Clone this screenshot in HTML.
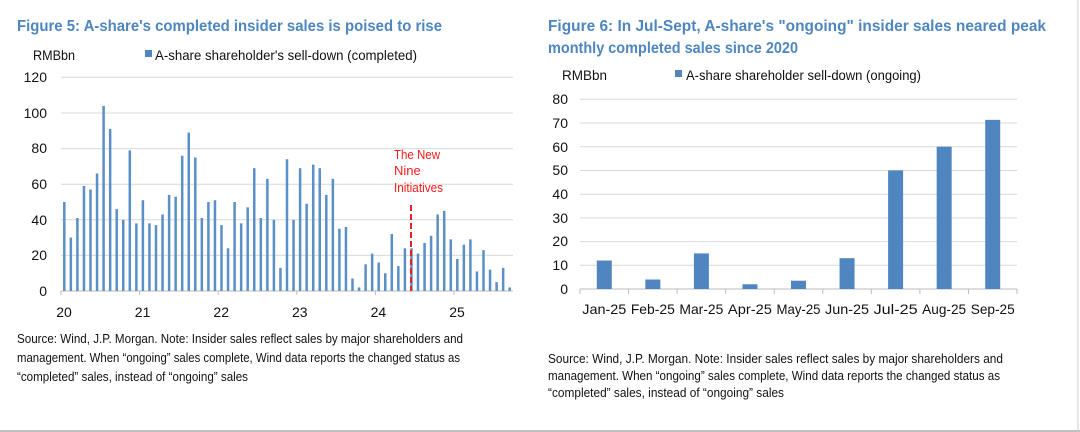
<!DOCTYPE html>
<html><head><meta charset="utf-8"><style>
body{margin:0;background:#fff;}
svg{display:block;font-family:"Liberation Sans",Arial,sans-serif;}
</style></head><body>
<svg width="1080" height="432" viewBox="0 0 1080 432" xmlns="http://www.w3.org/2000/svg">
<rect width="1080" height="432" fill="#fff"/>
<line x1="0" y1="431" x2="1080" y2="431" stroke="#aaa" stroke-width="1.5"/>
<line x1="1078" y1="0" x2="1078" y2="432" stroke="#ccc" stroke-width="1"/>
<!-- Left chart -->
<text x="17" y="31" font-size="16" font-weight="bold" fill="#4f86c0" textLength="425" lengthAdjust="spacingAndGlyphs">Figure 5: A-share's completed insider sales is poised to rise</text>
<text x="33" y="60" font-size="14" fill="#111" textLength="42" lengthAdjust="spacingAndGlyphs">RMBbn</text>
<rect x="145" y="50" width="7" height="7" fill="#4f86c0"/>
<text x="155" y="60" font-size="14" fill="#111" textLength="262" lengthAdjust="spacingAndGlyphs">A-share shareholder's sell-down (completed)</text>
<g stroke="#d9d9d9" stroke-width="1">
<line x1="61" y1="77.3" x2="513" y2="77.3"/><line x1="61" y1="113" x2="513" y2="113"/><line x1="61" y1="148.6" x2="513" y2="148.6"/><line x1="61" y1="184.2" x2="513" y2="184.2"/><line x1="61" y1="219.8" x2="513" y2="219.8"/><line x1="61" y1="255.4" x2="513" y2="255.4"/>
</g>
<line x1="61" y1="291" x2="513" y2="291" stroke="#bbb"/>
<g font-size="14" fill="#111" text-anchor="end">
<text x="47" y="82">120</text><text x="47" y="118">100</text><text x="47" y="153">80</text><text x="47" y="189">60</text><text x="47" y="225">40</text><text x="47" y="260">20</text><text x="47" y="296">0</text>
</g>
<g font-size="14" fill="#111" text-anchor="middle">
<text x="64" y="317">20</text><text x="142.6" y="317">21</text><text x="221.2" y="317">22</text><text x="299.8" y="317">23</text><text x="378.4" y="317">24</text><text x="457" y="317">25</text>
</g>
<g stroke="#bbb"><line x1="61" y1="291" x2="61" y2="295"/><line x1="139.6" y1="291" x2="139.6" y2="295"/><line x1="218.2" y1="291" x2="218.2" y2="295"/><line x1="296.8" y1="291" x2="296.8" y2="295"/><line x1="375.4" y1="291" x2="375.4" y2="295"/><line x1="454" y1="291" x2="454" y2="295"/></g>
<g id="lbars" fill="#5b8fc7"></g>
<line x1="411" y1="205" x2="411" y2="291" stroke="#e8202a" stroke-width="2" stroke-dasharray="6,3"/>
<g font-size="13" fill="#ff1a1a">
<text x="394" y="159" textLength="46" lengthAdjust="spacingAndGlyphs">The New</text>
<text x="394" y="175">Nine</text>
<text x="394" y="192" textLength="49" lengthAdjust="spacingAndGlyphs">Initiatives</text>
</g>
<g font-size="13" fill="#111">
<text x="17" y="343" textLength="446" lengthAdjust="spacingAndGlyphs">Source: Wind, J.P. Morgan. Note: Insider sales reflect sales by major shareholders and</text>
<text x="17" y="362" textLength="443" lengthAdjust="spacingAndGlyphs">management. When “ongoing” sales complete, Wind data reports the changed status as</text>
<text x="17" y="381" textLength="231" lengthAdjust="spacingAndGlyphs">“completed” sales, instead of “ongoing” sales</text>
</g>
<!-- Right chart -->
<text x="548" y="31" font-size="16" font-weight="bold" fill="#4f86c0" textLength="498" lengthAdjust="spacingAndGlyphs">Figure 6: In Jul-Sept, A-share's "ongoing" insider sales neared peak</text>
<text x="548" y="53" font-size="16" font-weight="bold" fill="#4f86c0" textLength="250" lengthAdjust="spacingAndGlyphs">monthly completed sales since 2020</text>
<text x="562" y="80" font-size="14" fill="#111" textLength="45" lengthAdjust="spacingAndGlyphs">RMBbn</text>
<rect x="675" y="70" width="7" height="7" fill="#4f86c0"/>
<text x="686" y="80" font-size="14" fill="#111" textLength="235" lengthAdjust="spacingAndGlyphs">A-share shareholder sell-down (ongoing)</text>
<g stroke="#d9d9d9">
<line x1="580" y1="99.3" x2="1017" y2="99.3"/><line x1="580" y1="123" x2="1017" y2="123"/><line x1="580" y1="146.7" x2="1017" y2="146.7"/><line x1="580" y1="170.5" x2="1017" y2="170.5"/><line x1="580" y1="194.2" x2="1017" y2="194.2"/><line x1="580" y1="217.9" x2="1017" y2="217.9"/><line x1="580" y1="241.6" x2="1017" y2="241.6"/><line x1="580" y1="265.3" x2="1017" y2="265.3"/>
</g>
<line x1="580" y1="289" x2="1017" y2="289" stroke="#bbb"/>
<g font-size="14" fill="#111" text-anchor="end">
<text x="568" y="104">80</text><text x="568" y="128">70</text><text x="568" y="152">60</text><text x="568" y="175">50</text><text x="568" y="199">40</text><text x="568" y="223">30</text><text x="568" y="246">20</text><text x="568" y="270">10</text><text x="568" y="294">0</text>
</g>
<g id="rticks" stroke="#bbb"></g>
<g fill="#4f86c0" id="rbars"></g>
<g font-size="14" fill="#111" text-anchor="middle" id="rlabels"></g>
<g font-size="13" fill="#111">
<text x="548" y="363" textLength="455" lengthAdjust="spacingAndGlyphs">Source: Wind, J.P. Morgan. Note: Insider sales reflect sales by major shareholders and</text>
<text x="548" y="380" textLength="452" lengthAdjust="spacingAndGlyphs">management. When “ongoing” sales complete, Wind data reports the changed status as</text>
<text x="548" y="397" textLength="236" lengthAdjust="spacingAndGlyphs">“completed” sales, instead of “ongoing” sales</text>
</g>
</svg>
<script>
var ns="http://www.w3.org/2000/svg";
var v=[50,30,41,59,57,66,104,91,46,40,79,38,51,38,37,43,54,53,76,89,75,41,50,51,37,24,50,38,47,69,41,63,40,13,74,40,69,49,71,69,54,63,35,36,7,2,15,21,16,10,32,14,24,24,21,27,31,43,45,29,18,26,29,11,23,12,5,13,2];
var g=document.getElementById("lbars");
v.forEach(function(d,i){var r=document.createElementNS(ns,"rect");var cx=64.3+6.55*i;var h=d*1.78;r.setAttribute("x",cx-1.25);r.setAttribute("width",2.5);r.setAttribute("y",291-h);r.setAttribute("height",h);g.appendChild(r);});
var rv=[12,4,15,2,3.5,13,50,60,71.3],lab=["Jan-25","Feb-25","Mar-25","Apr-25","May-25","Jun-25","Jul-25","Aug-25","Sep-25"];
var w=(1017-580)/9,rb=document.getElementById("rbars"),rl=document.getElementById("rlabels"),rt=document.getElementById("rticks");
for(var i=0;i<=9;i++){var l=document.createElementNS(ns,"line");var x=580+w*i;l.setAttribute("x1",x);l.setAttribute("x2",x);l.setAttribute("y1",289);l.setAttribute("y2",294);rt.appendChild(l);}
rv.forEach(function(d,i){var cx=580+w*(i+0.5);var h=d*2.372;var r=document.createElementNS(ns,"rect");r.setAttribute("x",cx-7.5);r.setAttribute("width",15);r.setAttribute("y",289-h);r.setAttribute("height",h);rb.appendChild(r);
var t=document.createElementNS(ns,"text");t.setAttribute("x",cx);t.setAttribute("y",314);t.setAttribute("textLength",44);t.setAttribute("lengthAdjust","spacingAndGlyphs");t.textContent=lab[i];rl.appendChild(t);});
</script>
</body></html>
